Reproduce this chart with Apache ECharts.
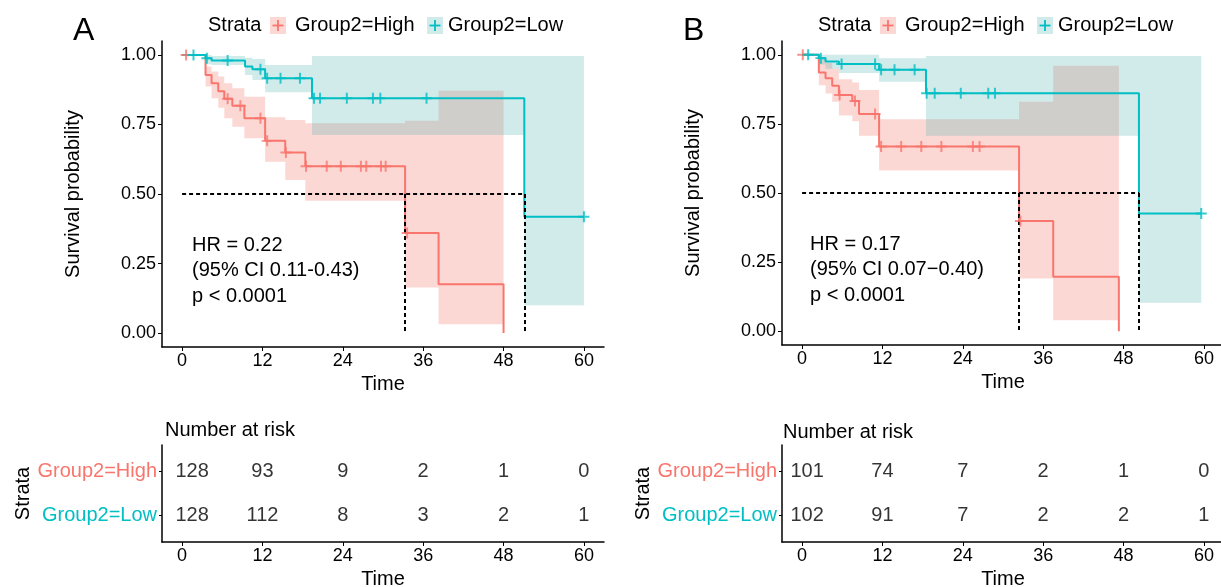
<!DOCTYPE html>
<html>
<head>
<meta charset="utf-8">
<script src="https://cdn.jsdelivr.net/npm/echarts@6/dist/echarts.min.js"></script>
<style>
html, body { margin: 0; padding: 0; background: #fff; }
#chart { width: 1221px; height: 587px; }
</style>
</head>
<body>
<div id="chart"></div>
<script>
// axis ticks
var timeTicks = [0, 12, 24, 36, 48, 60];
var survTicks = [0, 0.25, 0.5, 0.75, 1];

// panel A, Group2=High
var aHighTime = [0, 3.5, 4.4, 5.4, 6.3, 7.5, 9.3, 12.4, 15.4, 18.4, 33.3, 38.3, 48];
var aHighSurv = [1, 0.928, 0.898, 0.869, 0.842, 0.817, 0.772, 0.691, 0.649, 0.600, 0.360, 0.176, 0];
var aHighLower = [1, 0.886, 0.844, 0.81, 0.772, 0.742, 0.70, 0.616, 0.55, 0.476, 0.164, 0.032];
var aHighUpper = [1, 0.958, 0.94, 0.922, 0.898, 0.88, 0.85, 0.776, 0.766, 0.754, 0.763, 0.871];
var aHighCens = [0.6, 6.8, 8.7, 11.7, 12.7, 15.5, 18.5, 21.6, 23.7, 26.7, 27.5, 29.7, 30.4, 33.6];
// panel A, Group2=Low
var aLowTime = [0, 3.5, 4.4, 9.4, 10.5, 12.4, 19.4, 51.1, 60];
var aLowSurv = [1, 0.988, 0.980, 0.958, 0.948, 0.916, 0.844, 0.418, 0.418];
var aLowLower = [1, 0.966, 0.964, 0.928, 0.91, 0.866, 0.712, 0.10];
var aLowUpper = [1, 1.0, 0.996, 0.99, 0.985, 0.964, 0.996, 0.996];
var aLowCens = [1.7, 3.7, 6.8, 11.7, 12.7, 14.7, 17.6, 19.7, 20.6, 24.6, 28.5, 29.6, 36.5, 60];

// panel B, Group2=High
var bHighTime = [0, 2.5, 3.5, 4.5, 5.5, 7.5, 8.5, 11.5, 32.4, 37.5, 47.3];
var bHighSurv = [1, 0.936, 0.915, 0.888, 0.855, 0.833, 0.786, 0.668, 0.399, 0.197, 0];
var bHighLower = [1, 0.89, 0.86, 0.83, 0.78, 0.76, 0.707, 0.581, 0.191, 0.04];
var bHighUpper = [1, 0.985, 0.97, 0.95, 0.912, 0.90, 0.873, 0.767, 0.830, 0.960];
var bHighCens = [0.1, 5.6, 7.9, 10.9, 11.8, 14.8, 17.8, 20.8, 25.5, 26.5, 32.6];
// panel B, Group2=Low
var bLowTime = [0, 2.5, 3.5, 5.5, 11.5, 18.5, 50.3, 59.6];
var bLowSurv = [1, 0.988, 0.976, 0.967, 0.946, 0.861, 0.426, 0.426];
var bLowLower = [1, 0.965, 0.95, 0.934, 0.903, 0.707, 0.103];
var bLowUpper = [1, 1, 1, 1, 0.988, 0.996, 0.996];
var bLowCens = [0.9, 2.8, 5.9, 10.9, 11.8, 13.8, 16.8, 18.6, 19.8, 23.7, 27.8, 28.8, 59.6];

// number at risk
var aHighRisk = [128, 93, 9, 2, 1, 0];
var aLowRisk = [128, 112, 8, 3, 2, 1];
var bHighRisk = [101, 74, 7, 2, 1, 0];
var bLowRisk = [102, 91, 7, 2, 2, 1];

var FONT = "'Liberation Sans', Arial, sans-serif";
var RED = '#F8766D';
var TEAL = '#00BFC4';
var RED_FILL = 'rgba(244,110,100,0.27)';
var TEAL_FILL = 'rgba(90,180,180,0.28)';
var PLUS = 'path://M4.1,0H5.9V10H4.1Z M0,4.1H10V5.9H0Z';

function stepAt(times, vals, t) {
	var v = vals[0];
	for (var i = 0; i < times.length; i++) {
		if (times[i] <= t) v = vals[i];
	}
	return v;
}

function medianOf(times, surv) {
	for (var i = 0; i < surv.length; i++) {
		if (surv[i] <= 0.5) return times[i];
	}
	return null;
}

function bandRows(times, lower, upper) {
	var rows = [];
	for (var i = 0; i < lower.length; i++) {
		if (upper[i] > lower[i]) rows.push([times[i], times[i + 1], lower[i], upper[i]]);
	}
	return rows;
}

// one polygon per band, so adjacent steps don't leave seams
function bandRender(fill) {
	return function(params, api) {
		if (params.dataIndexInside !== 0) return null;
		var top = [], bot = [];
		for (var i = 0; i < params.dataInsideLength; i++) {
			var t0 = api.value(0, i), t1 = api.value(1, i);
			var lo = api.value(2, i), hi = api.value(3, i);
			top.push(api.coord([t0, hi]), api.coord([t1, hi]));
			bot.push(api.coord([t0, lo]), api.coord([t1, lo]));
		}
		return {
			type: 'polygon',
			shape: { points: top.concat(bot.reverse()) },
			style: { fill: fill }
		};
	};
}

function panelSeries(gi, high, low) {
	var out = [];
	var groups = [high, low]; // pink band first, teal on top
	groups.forEach(function(g) {
		out.push({
			type: 'custom', xAxisIndex: gi, yAxisIndex: gi, z: 1,
			renderItem: bandRender(g.fill),
			encode: { x: [0, 1], y: [2, 3] },
			data: bandRows(g.time, g.lower, g.upper),
			silent: true
		});
	});
	groups.forEach(function(g) {
		out.push({
			type: 'line', xAxisIndex: gi, yAxisIndex: gi, z: 3,
			step: 'end', symbol: 'none', showSymbol: false,
			lineStyle: { color: g.color, width: 2 },
			data: g.time.map(function(t, i) { return [t, g.surv[i]]; })
		});
		out.push({
			type: 'scatter', xAxisIndex: gi, yAxisIndex: gi, z: 5,
			symbol: PLUS, symbolSize: 11,
			itemStyle: { color: g.color },
			data: g.cens.map(function(t) { return [t, stepAt(g.time, g.surv, t)]; })
		});
	});
	var mH = medianOf(high.time, high.surv);
	var mL = medianOf(low.time, low.surv);
	out.push({
		type: 'lines', coordinateSystem: 'cartesian2d', xAxisIndex: gi, yAxisIndex: gi, z: 4,
		lineStyle: { color: '#000', width: 2, type: [4, 3], opacity: 1 },
		data: [
			{ coords: [[0, 0.5], [Math.max(mH, mL), 0.5]] },
			{ coords: [[mH, 0.5], [mH, 0]] },
			{ coords: [[mL, 0.5], [mL, 0]] }
		]
	});
	return out;
}

function riskSeries(gi, highRisk, lowRisk, firstShift) {
	function rowData(vals, row) {
		return vals.map(function(n, i) {
			var item = { value: [timeTicks[i], row, n] };
			if (i === 0) item.label = { offset: [firstShift, 0] };
			return item;
		});
	}
	var lbl = {
		show: true, position: 'inside', color: '#000', fontSize: 20, fontFamily: FONT,
		formatter: function(p) { return p.value[2]; }
	};
	return [
		{ type: 'scatter', xAxisIndex: gi, yAxisIndex: gi, symbolSize: 0, label: lbl, data: rowData(highRisk, 2) },
		{ type: 'scatter', xAxisIndex: gi, yAxisIndex: gi, symbolSize: 0, label: lbl, data: rowData(lowRisk, 1) }
	];
}

function xAxisOf(gi, gap) {
	return {
		gridIndex: gi, type: 'value', min: -3, max: 63,
		axisLine: { show: true, onZero: false, lineStyle: { color: '#000', width: 1.5 } },
		axisTick: { show: true, length: 4, customValues: timeTicks, lineStyle: { color: '#000', width: 1 } },
		axisLabel: { customValues: timeTicks, color: '#000', fontSize: 18, margin: 5, fontFamily: FONT },
		splitLine: { show: false },
		name: 'Time', nameLocation: 'middle', nameGap: gap,
		nameTextStyle: { color: '#000', fontSize: 20, fontFamily: FONT }
	};
}

function yAxisPlot(gi) {
	return {
		gridIndex: gi, type: 'value', min: -0.05, max: 1.05,
		axisLine: { show: true, onZero: false, lineStyle: { color: '#000', width: 1.5 } },
		axisTick: { show: true, length: 4, customValues: survTicks, lineStyle: { color: '#000', width: 1 } },
		axisLabel: {
			customValues: survTicks, color: '#000', fontSize: 18, margin: 6, fontFamily: FONT,
			formatter: function(v) { return v.toFixed(2); }
		},
		splitLine: { show: false },
		name: 'Survival probability', nameLocation: 'middle', nameRotate: 90, nameGap: 79,
		nameTextStyle: { color: '#000', fontSize: 20, fontFamily: FONT }
	};
}

function yAxisRisk(gi) {
	return {
		gridIndex: gi, type: 'value', min: 0.4, max: 2.6,
		axisLine: { show: true, onZero: false, lineStyle: { color: '#000', width: 1.5 } },
		axisTick: { show: true, length: 3, customValues: [1, 2], lineStyle: { color: '#000', width: 1 } },
		axisLabel: {
			customValues: [1, 2], margin: 5, fontFamily: FONT,
			formatter: function(v) { return v === 2 ? '{h|Group2=High}' : '{l|Group2=Low}'; },
			rich: {
				h: { color: RED, fontSize: 20, fontFamily: FONT },
				l: { color: TEAL, fontSize: 20, fontFamily: FONT }
			}
		},
		splitLine: { show: false },
		name: 'Strata', nameLocation: 'middle', nameRotate: 90, nameGap: 128,
		nameTextStyle: { color: '#000', fontSize: 20, fontFamily: FONT }
	};
}

function txt(x, y, s, size, color, align) {
	return {
		type: 'text', x: x, y: y,
		style: { text: s, fill: color || '#000', fontSize: size, fontFamily: FONT, align: align || 'left', verticalAlign: 'middle' }
	};
}

function legendGraphic(x0) {
	// x0 = left edge of "Strata"
	var els = [txt(x0, 25, 'Strata', 20)];
	var keys = [
		{ dx: 62, fill: RED_FILL, col: RED, label: 'Group2=High', tx: 87 },
		{ dx: 219, fill: TEAL_FILL, col: TEAL, label: 'Group2=Low', tx: 240 }
	];
	keys.forEach(function(k) {
		var bx = x0 + k.dx;
		els.push({ type: 'rect', shape: { x: bx, y: 17, width: 16, height: 17 }, style: { fill: k.fill } });
		els.push({ type: 'rect', shape: { x: bx + 2.5, y: 24.6, width: 11, height: 1.8 }, style: { fill: k.col } });
		els.push({ type: 'rect', shape: { x: bx + 7.1, y: 20, width: 1.8, height: 11 }, style: { fill: k.col } });
		els.push(txt(x0 + k.tx, 25, k.label, 20));
	});
	return els;
}

var highA = { time: aHighTime, surv: aHighSurv, lower: aHighLower, upper: aHighUpper, cens: aHighCens, color: RED, fill: RED_FILL };
var lowA = { time: aLowTime, surv: aLowSurv, lower: aLowLower, upper: aLowUpper, cens: aLowCens, color: TEAL, fill: TEAL_FILL };
var highB = { time: bHighTime, surv: bHighSurv, lower: bHighLower, upper: bHighUpper, cens: bHighCens, color: RED, fill: RED_FILL };
var lowB = { time: bLowTime, surv: bLowSurv, lower: bLowLower, upper: bLowUpper, cens: bLowCens, color: TEAL, fill: TEAL_FILL };

var series = [].concat(
	panelSeries(0, highA, lowA),
	panelSeries(1, highB, lowB),
	riskSeries(2, aHighRisk, aLowRisk, 10),
	riskSeries(3, bHighRisk, bLowRisk, 5)
);

var graphics = [
	txt(73, 31, 'A', 32),
	txt(683, 31, 'B', 32),
	txt(192, 245, 'HR = 0.22', 20),
	txt(192, 270, '(95% CI 0.11-0.43)', 20),
	txt(192, 296, 'p < 0.0001', 20),
	txt(810, 244, 'HR = 0.17', 20),
	txt(810, 269, '(95% CI 0.07\u22120.40)', 20),
	txt(810, 295, 'p < 0.0001', 20),
	txt(165, 430, 'Number at risk', 20),
	txt(783, 432, 'Number at risk', 20)
].concat(legendGraphic(208), legendGraphic(818));

var chart = echarts.init(document.getElementById('chart'));
chart.setOption({
	animation: false,
	backgroundColor: '#fff',
	textStyle: { fontFamily: FONT },
	grid: [
		{ left: 162, top: 41, width: 442, height: 306, outerBoundsMode: 'none' },
		{ left: 782, top: 41, width: 442, height: 304, outerBoundsMode: 'none' },
		{ left: 162, top: 445, width: 442, height: 97, outerBoundsMode: 'none' },
		{ left: 782, top: 445, width: 442, height: 97, outerBoundsMode: 'none' }
	],
	xAxis: [xAxisOf(0, 24), xAxisOf(1, 24), xAxisOf(2, 27), xAxisOf(3, 27)],
	yAxis: [yAxisPlot(0), yAxisPlot(1), yAxisRisk(2), yAxisRisk(3)],
	graphic: graphics,
	series: series
});
</script>
</body>
</html>
